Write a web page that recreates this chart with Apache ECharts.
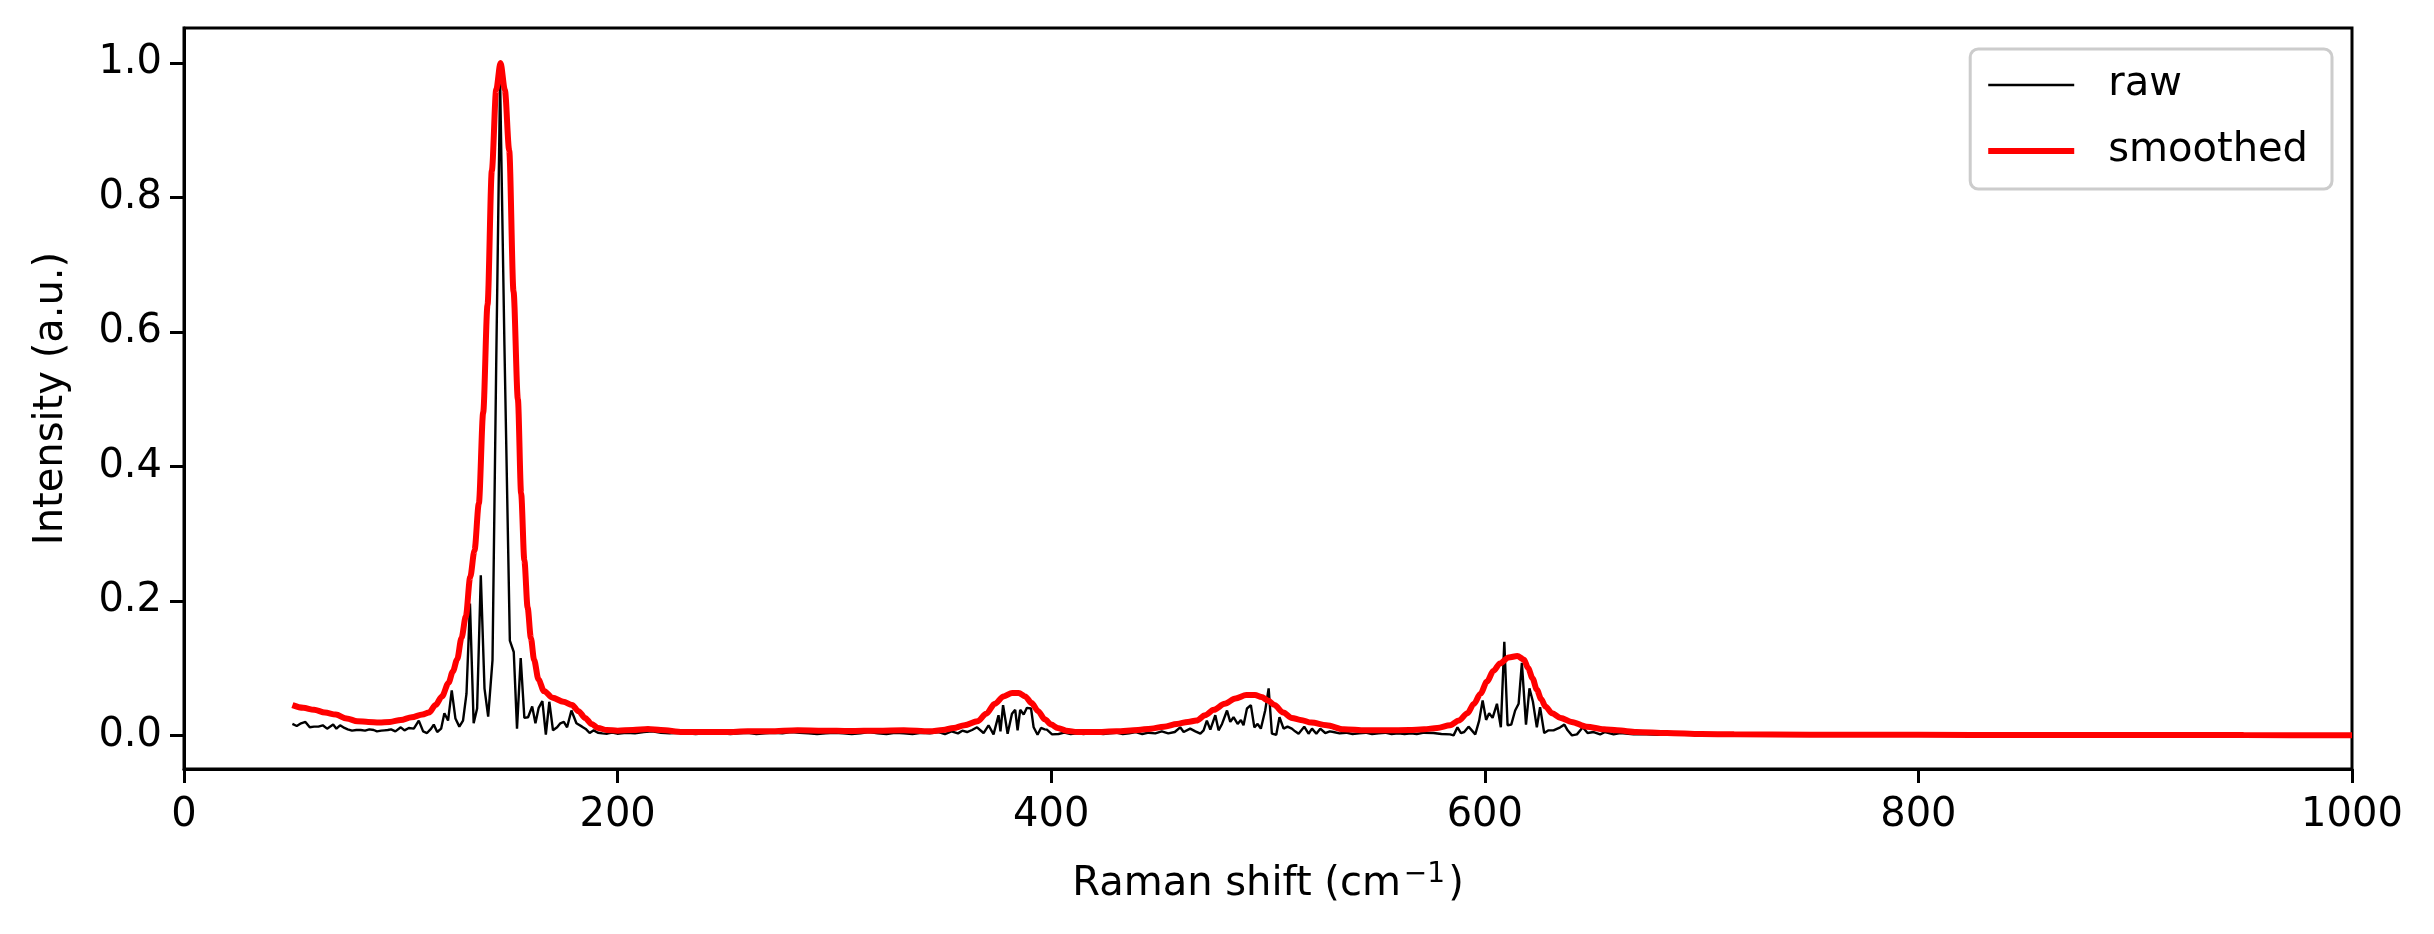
<!DOCTYPE html>
<html>
<head>
<meta charset="utf-8">
<script src="https://cdn.jsdelivr.net/npm/echarts@6/dist/echarts.min.js"></script>
<style>
  html, body { margin: 0; padding: 0; background: #fff; }
  #chart { width: 2434px; height: 934px; }
</style>
</head>
<body>
<div id="chart"></div>
<script>
// raw spectrum
var rawX = [50, 52, 54, 56, 58, 60, 62, 64, 66, 68.8, 70.3, 72, 74, 75.5, 77.5, 79.5, 81.5, 83.5, 85.5, 87.5,
  89, 91, 92.5, 94, 95.5, 97.5, 100, 101.7, 103.7, 106, 108.3, 110.3, 112.1, 114, 115.2, 116.8, 118.6, 120.1, 121.8, 123.5,
  125.2, 127, 128.7, 130.3, 131.9, 133.6, 135.2, 136.9, 138.6, 140.3, 142.3, 144, 145.8, 147.8, 150.3, 152.1, 153.6, 155.3, 157, 158.7,
  160.6, 162.1, 163.6, 165.3, 166.9, 168.5, 170.2, 172.1, 173.6, 175.2, 176.7, 178.7, 181, 183.6, 185.5, 187.1, 189, 190.9, 193, 195.2,
  197.5, 199.8, 204, 208, 212, 216, 220, 224, 228, 232, 236, 240, 244, 248, 252, 256, 260, 264, 268, 272,
  276, 280, 284, 288, 292, 296, 300, 304, 308, 312, 316, 320, 324, 328, 332, 336, 340, 344, 348, 351,
  354, 357, 359, 361.2, 363.5, 365.8, 368.8, 371.1, 373.4, 375.7, 376.6, 377.8, 379.9, 381.9, 383.4, 384.5, 385.7, 387.3, 388.8, 390.7,
  391.9, 393.7, 395.3, 397, 398, 400.4, 403.4, 406, 409, 412, 415, 418, 421, 424, 427, 430, 433, 436, 439, 442,
  445, 448, 451, 454, 457, 459.5, 461.1, 464.1, 466.5, 468.8, 470.3, 471.8, 473.4, 475.7, 477.2, 478.8, 481.1, 482.6, 484.1, 486,
  487.5, 488.7, 490.3, 492.1, 493.7, 495.2, 496.7, 498.7, 500.3, 501.8, 503.8, 505.3, 507.2, 509, 511, 512.5, 514.1, 516.7, 518.7, 520.3,
  522.3, 524.1, 526.4, 528.5, 530.2, 533, 536, 539, 542, 545, 548, 551, 554, 557, 560, 563, 566, 568.6, 572, 576.3,
  580, 584, 585.6, 587.4, 589, 590.5, 592.5, 595.6, 597.4, 599, 600.6, 602, 603.6, 605.6, 607.4, 609, 610.5, 612.2, 614, 615.6,
  617.1, 619, 620.6, 622.2, 624, 625.5, 627.4, 629.4, 631.7, 634.8, 636.7, 638.2, 640.2, 642.5, 645.2, 647.4, 650.2, 653.2, 655.5, 659.4,
  662.5, 668.6, 671.7, 680, 700, 750, 800, 850, 900, 950, 1000];
var rawY = [0.017, 0.014, 0.018, 0.020, 0.012, 0.013, 0.013, 0.015, 0.010, 0.016, 0.010, 0.015, 0.011, 0.009, 0.007, 0.008, 0.008, 0.007, 0.009, 0.008,
  0.006, 0.007, 0.0075, 0.008, 0.009, 0.006, 0.012, 0.0075, 0.011, 0.010, 0.022, 0.006, 0.0035, 0.010, 0.016, 0.005, 0.010, 0.033, 0.022, 0.067,
  0.025, 0.013, 0.022, 0.062, 0.196, 0.018, 0.040, 0.238, 0.070, 0.028, 0.112, 0.55, 0.975, 0.58, 0.141, 0.124, 0.010, 0.115, 0.026, 0.027,
  0.043, 0.018, 0.041, 0.051, 0.001, 0.050, 0.0075, 0.012, 0.018, 0.020, 0.012, 0.037, 0.018, 0.013, 0.009, 0.0035, 0.0075, 0.004, 0.003, 0.0025,
  0.004, 0.0025, 0.004, 0.003, 0.005, 0.006, 0.004, 0.003, 0.004, 0.003, 0.002, 0.003, 0.004, 0.003, 0.002, 0.003, 0.004, 0.002, 0.003, 0.004,
  0.003, 0.005, 0.004, 0.003, 0.002, 0.003, 0.004, 0.003, 0.002, 0.003, 0.005, 0.003, 0.002, 0.004, 0.003, 0.002, 0.004, 0.003, 0.005, 0.002,
  0.006, 0.003, 0.007, 0.005, 0.008, 0.012, 0.0035, 0.015, 0.0015, 0.030, 0.006, 0.045, 0.0025, 0.032, 0.038, 0.0075, 0.038, 0.031, 0.041, 0.040,
  0.012, 0.001, 0.011, 0.009, 0.0085, 0.0015, 0.002, 0.004, 0.002, 0.003, 0.002, 0.004, 0.003, 0.002, 0.003, 0.004, 0.002, 0.003, 0.005, 0.002,
  0.004, 0.003, 0.006, 0.003, 0.005, 0.012, 0.005, 0.010, 0.006, 0.0025, 0.0075, 0.022, 0.0085, 0.030, 0.0075, 0.017, 0.037, 0.020, 0.027, 0.017,
  0.023, 0.015, 0.040, 0.045, 0.012, 0.017, 0.010, 0.037, 0.070, 0.0025, 0.001, 0.027, 0.010, 0.013, 0.010, 0.006, 0.0025, 0.013, 0.0025, 0.010,
  0.0025, 0.010, 0.0035, 0.006, 0.005, 0.003, 0.004, 0.002, 0.003, 0.004, 0.002, 0.003, 0.004, 0.002, 0.003, 0.002, 0.003, 0.002, 0.004, 0.0035,
  0.002, 0.0015, 0.0, 0.012, 0.0035, 0.005, 0.013, 0.0015, 0.022, 0.052, 0.023, 0.033, 0.026, 0.047, 0.012, 0.139, 0.015, 0.016, 0.037, 0.047,
  0.108, 0.016, 0.070, 0.050, 0.012, 0.042, 0.0035, 0.0075, 0.0075, 0.012, 0.016, 0.0075, 0.0, 0.0015, 0.012, 0.0035, 0.005, 0.0015, 0.005, 0.0015,
  0.0035, 0.0015, 0.002, 0.001, 0.001, 0.0005, 0.0005, 0.0005, 0.0005, 0.0005, 0.0005];

// smoothed curve
var smoothX = [50, 55, 60, 65, 70, 75, 80, 85, 90, 95, 100, 105, 110, 113, 116, 119, 122, 124, 126, 128,
  130, 132, 134, 136, 138, 140, 142, 144, 146, 148, 150, 152, 154, 155.5, 157, 158.5, 160, 161.5, 163.5, 166,
  170, 175, 179, 182, 185, 188, 191, 195, 200, 207, 214, 220, 230, 240, 250, 260, 270, 283, 295, 307,
  320, 332, 344, 350, 355, 360, 366, 370, 374, 378, 382, 385, 388, 391, 394, 397, 400, 403, 407, 412,
  420, 430, 440, 446, 452, 458, 463, 467, 471, 475, 480, 485, 490, 494, 497, 500, 503, 507, 511, 515,
  520, 527, 535, 545, 555, 565, 572, 578, 584, 588, 592, 595, 598, 601, 604, 607, 611, 615, 618, 620,
  622, 624, 626, 628, 631, 635, 640, 647, 655, 661, 670, 684, 700, 715, 750, 800, 850, 900, 950, 1000];
var smoothY = [0.045, 0.041, 0.038, 0.034, 0.031, 0.025, 0.021, 0.020, 0.019, 0.020, 0.023, 0.027, 0.031, 0.034, 0.045, 0.058, 0.078, 0.095, 0.113, 0.145,
  0.177, 0.235, 0.275, 0.345, 0.48, 0.64, 0.84, 0.96, 1.0, 0.96, 0.87, 0.66, 0.50, 0.36, 0.26, 0.19, 0.145, 0.112, 0.083, 0.066,
  0.056, 0.050, 0.045, 0.036, 0.026, 0.017, 0.011, 0.008, 0.007, 0.008, 0.0095, 0.008, 0.005, 0.005, 0.005, 0.006, 0.006, 0.0075, 0.007, 0.0065,
  0.007, 0.0075, 0.006, 0.008, 0.011, 0.015, 0.021, 0.032, 0.047, 0.058, 0.063, 0.063, 0.058, 0.048, 0.036, 0.024, 0.016, 0.011, 0.007, 0.005,
  0.005, 0.006, 0.008, 0.010, 0.013, 0.017, 0.020, 0.022, 0.030, 0.038, 0.047, 0.055, 0.060, 0.060, 0.057, 0.052, 0.045, 0.034, 0.026, 0.023,
  0.019, 0.015, 0.009, 0.0075, 0.0075, 0.008, 0.009, 0.011, 0.015, 0.022, 0.033, 0.047, 0.062, 0.080, 0.096, 0.107, 0.116, 0.118, 0.113, 0.100,
  0.085, 0.068, 0.054, 0.043, 0.033, 0.026, 0.020, 0.013, 0.009, 0.0075, 0.005, 0.0035, 0.002, 0.0015, 0.001, 0.0008, 0.0006, 0.0005, 0.0004, 0.0003];

var xTicks = [0, 200, 400, 600, 800, 1000];
var yTicks = [0, 0.2, 0.4, 0.6, 0.8, 1.0];

function pairs(xs, ys) {
    var out = [];
    for (var i = 0; i < xs.length; i++) out.push([xs[i], ys[i]]);
    return out;
}

var font = 'DejaVu Sans';
var fs = 40;

var chart = echarts.init(document.getElementById('chart'), null, {renderer: 'canvas'});
var option = {
    animation: false,
    backgroundColor: '#fff',
    textStyle: {fontFamily: font},
    grid: {
        left: 184, right: 82, top: 28, bottom: 165,
        show: true, borderColor: '#000', borderWidth: 3, backgroundColor: 'transparent'
    },
    legend: {
        orient: 'vertical',
        right: 102,
        top: 49,
        padding: [16, 24, 18, 15],
        itemGap: 26,
        itemWidth: 86,
        itemHeight: 40,
        borderColor: '#cccccc',
        borderWidth: 3,
        borderRadius: 8,
        backgroundColor: '#fff',
        itemStyle: {opacity: 0},
        textStyle: {fontFamily: font, fontSize: fs, color: '#000', padding: [0, 0, 0, 29]},
        data: [
            {name: 'raw', lineStyle: {color: '#000', width: 2.4}},
            {name: 'smoothed', lineStyle: {color: '#ff0000', width: 6}}
        ]
    },
    xAxis: {
        type: 'value',
        min: 0, max: 1000, interval: 200,
        name: '{t|Raman shift (cm}{s|\u22121}{t|)}',
        nameLocation: 'middle',
        nameGap: 92,
        nameTextStyle: {
            fontFamily: font, fontSize: fs, color: '#000',
            rich: {
                t: {fontFamily: font, fontSize: fs, color: '#000', lineHeight: 48},
                s: {fontFamily: font, fontSize: 28, color: '#000', lineHeight: 28, verticalAlign: 'top', padding: [0, 3, 0, 3]}
            }
        },
        axisLine: {show: true, onZero: false, lineStyle: {color: '#000', width: 3}},
        axisTick: {show: true, inside: false, length: 14, lineStyle: {color: '#000', width: 3}},
        axisLabel: {
            fontFamily: font, fontSize: fs, color: '#000', margin: 27,
            customValues: xTicks,
            formatter: function (v) { return String(v); }
        },
        splitLine: {show: false}
    },
    yAxis: {
        type: 'value',
        min: -0.05, max: 1.052,
        name: 'Intensity (a.u.)',
        nameLocation: 'middle',
        nameRotate: 90,
        nameGap: 112,
        nameTextStyle: {fontFamily: font, fontSize: fs, color: '#000'},
        axisLine: {show: true, onZero: false, lineStyle: {color: '#000', width: 3}},
        axisTick: {show: true, inside: false, length: 14, lineStyle: {color: '#000', width: 3}, customValues: yTicks},
        axisLabel: {
            fontFamily: font, fontSize: fs, color: '#000', margin: 22,
            customValues: yTicks,
            formatter: function (v) { return v.toFixed(1); }
        },
        splitLine: {show: false}
    },
    series: [
        {
            name: 'raw',
            type: 'line',
            data: pairs(rawX, rawY),
            symbol: 'none',
            lineStyle: {color: '#000', width: 2.4},
            itemStyle: {color: '#000'},
            z: 2
        },
        {
            name: 'smoothed',
            type: 'line',
            data: pairs(smoothX, smoothY),
            symbol: 'none',
            smooth: 0.3,
            smoothMonotone: 'x',
            lineStyle: {color: '#ff0000', width: 6},
            itemStyle: {color: '#ff0000'},
            z: 3
        }
    ]
};
chart.setOption(option);
</script>
</body>
</html>
